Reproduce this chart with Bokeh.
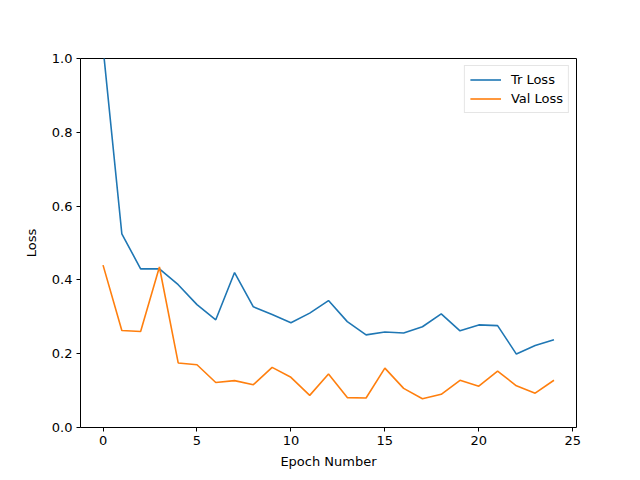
from bokeh.plotting import figure
from bokeh.embed import file_html
from bokeh.resources import INLINE
from bokeh.models import FixedTicker, PrintfTickFormatter, Range1d, Legend, LegendItem

epochs = list(range(25))
tr_loss = [1.03, 0.525, 0.43, 0.43, 0.387, 0.333, 0.292, 0.42, 0.327, 0.306, 0.284, 0.31, 0.344,
           0.287, 0.251, 0.259, 0.256, 0.273, 0.308, 0.262, 0.278, 0.276, 0.199, 0.222, 0.238]
val_loss = [0.44, 0.263, 0.26, 0.435, 0.175, 0.17, 0.122, 0.127, 0.116, 0.163, 0.136, 0.087, 0.145,
            0.081, 0.08, 0.161, 0.106, 0.078, 0.09, 0.128, 0.112, 0.153, 0.113, 0.093, 0.128]
x_ticks = [0, 5, 10, 15, 20, 25]
y_ticks = [0.0, 0.2, 0.4, 0.6, 0.8, 1.0]

FONT = "DejaVu Sans"

p = figure(width=640, height=480, output_backend="svg", toolbar_location=None,
           x_range=Range1d(-1.2, 25.2), y_range=Range1d(0, 1.0),
           min_border_left=80, min_border_right=64, min_border_top=58, min_border_bottom=53)

r1 = p.line(epochs, tr_loss, line_color="#1f77b4", line_width=1.6)
r2 = p.line(epochs, val_loss, line_color="#ff7f0e", line_width=1.6)

p.xgrid.visible = False
p.ygrid.visible = False
p.outline_line_color = "black"
p.outline_line_width = 1
p.outline_line_alpha = 1

for ax in (p.xaxis[0], p.yaxis[0]):
    ax.axis_line_color = None
    ax.major_tick_line_color = "black"
    ax.major_tick_out = 4
    ax.major_tick_in = 0
    ax.minor_tick_line_color = None
    ax.major_label_text_font = FONT
    ax.major_label_text_font_size = "13px"
    ax.major_label_text_color = "black"
    ax.axis_label_text_font = FONT
    ax.axis_label_text_font_size = "13px"
    ax.axis_label_text_font_style = "normal"
    ax.axis_label_text_color = "black"

p.xaxis[0].ticker = FixedTicker(ticks=x_ticks)
p.yaxis[0].ticker = FixedTicker(ticks=y_ticks)
p.yaxis[0].formatter = PrintfTickFormatter(format="%.1f")
p.xaxis[0].axis_label = "Epoch Number"
p.yaxis[0].axis_label = "Loss"
p.xaxis[0].axis_label_standoff = 6
p.yaxis[0].axis_label_standoff = 10
p.xaxis[0].major_label_standoff = 4
p.yaxis[0].major_label_standoff = 4

legend = Legend(items=[LegendItem(label="Tr Loss", renderers=[r1]),
                       LegendItem(label="Val Loss", renderers=[r2])],
                location="top_right")
legend.label_text_font = FONT
legend.label_text_font_size = "13px"
legend.label_text_color = "black"
legend.glyph_width = 31
legend.glyph_height = 17
legend.label_standoff = 10
legend.label_height = 17
legend.spacing = 2
legend.padding = 5
legend.margin = 7
legend.border_line_color = "#cccccc"
legend.border_line_width = 1
legend.background_fill_alpha = 0.8
p.add_layout(legend)

open("out.html", "w").write(file_html(p, INLINE))
